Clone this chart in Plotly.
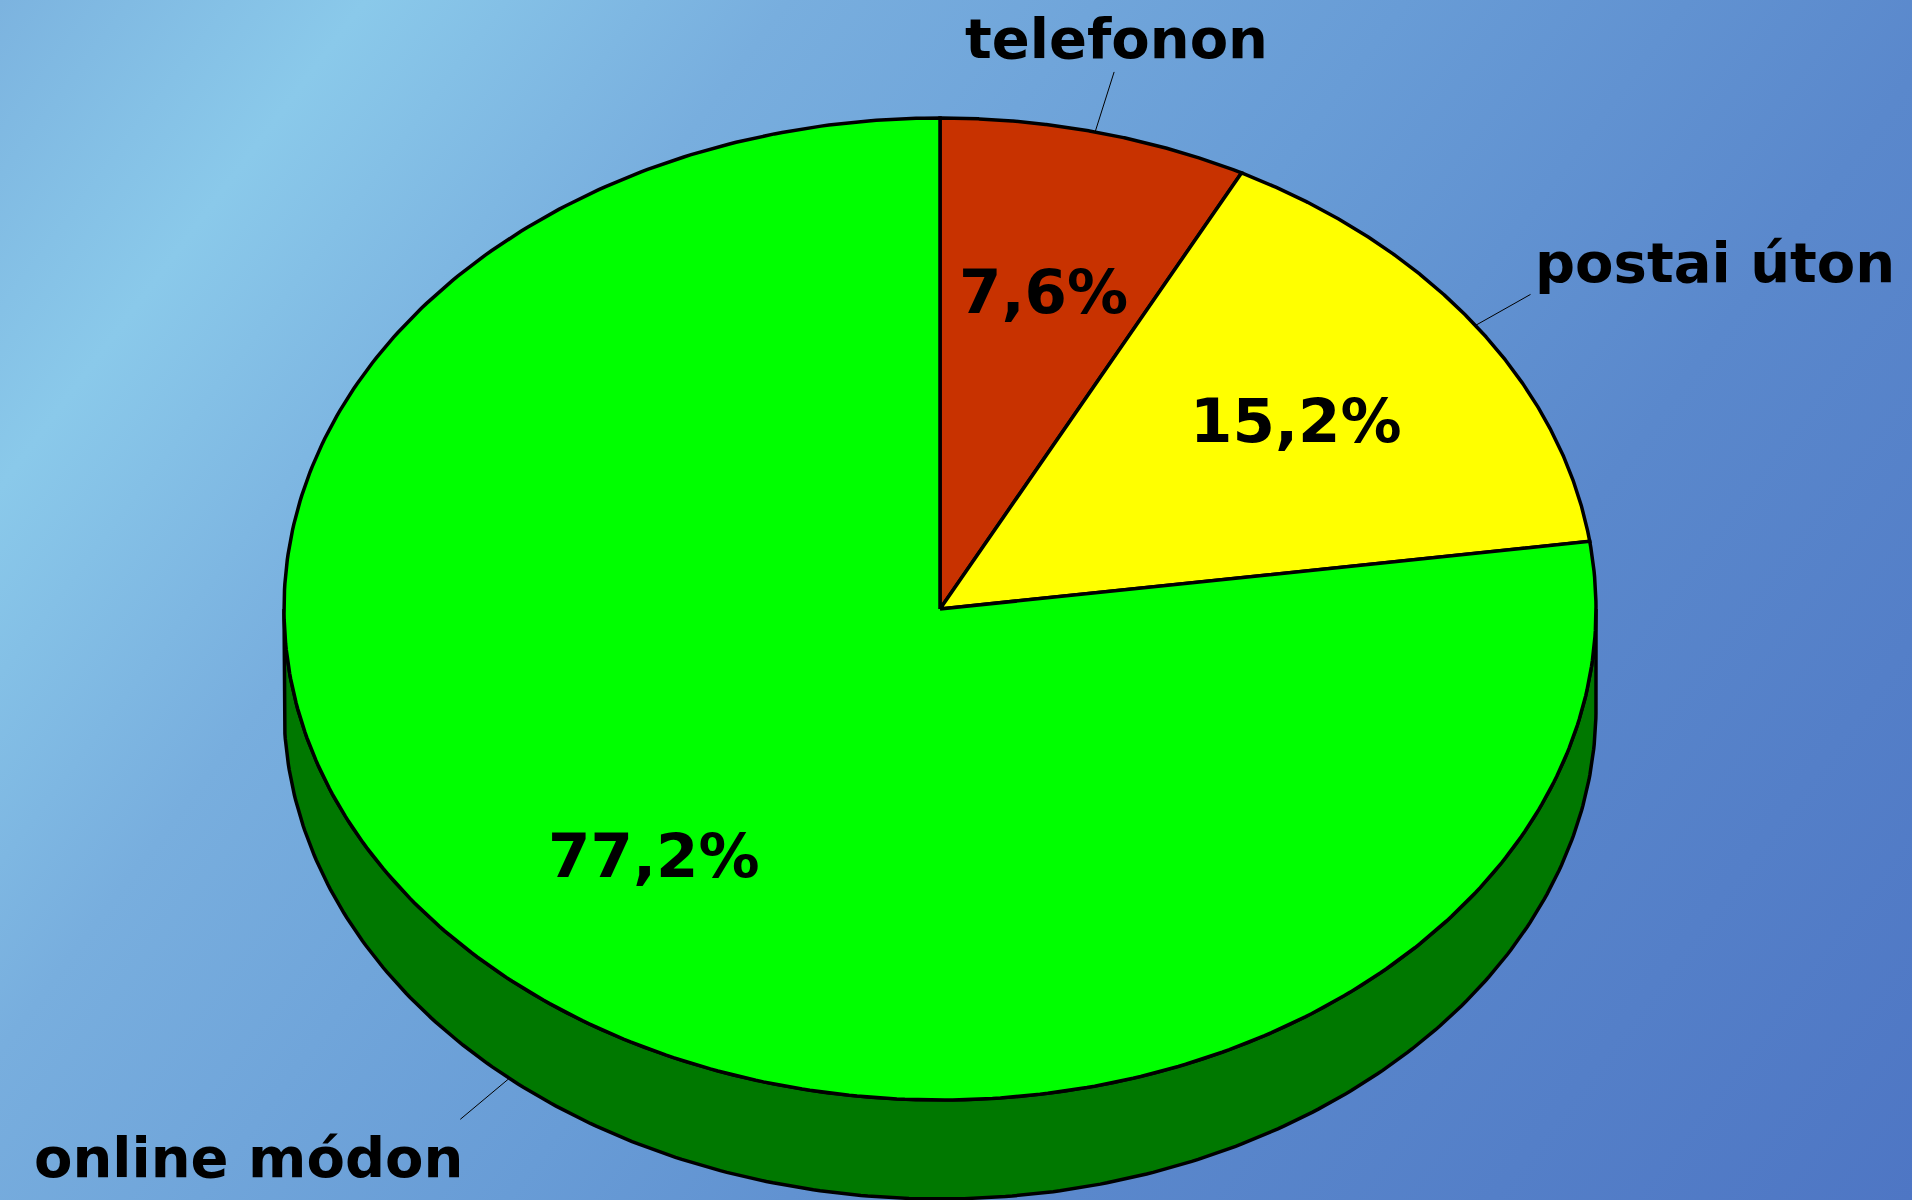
import base64
import numpy as np
import plotly.graph_objects as go

# ---------------- data ----------------
categories = ["telefonon", "postai úton", "online módon"]
values = [7.6, 15.2, 77.2]
pct_labels = ["7,6%", "15,2%", "77,2%"]

# ---------------- style ----------------
top_colors = ["#c83200", "#ffff00", "#00ff00"]
side_colors = ["#6e1c00", "#8c8c00", "#007800"]
W, H = 1912, 1200
CX, CY, RX, RY, DEPTH = 940, 609, 656, 491, 99
LABEL_R = 0.665
# leader line offsets (px) from slice edge, and text offsets from leader end
leader_off = [(19, -60), (55, -31), (-49, 41)]
text_off = [(2, -33), (2, -32), (5, 38)]
text_anchor = ["center", "left", "right"]


def pt(theta_deg, dy=0.0, r=1.0):
    t = np.radians(theta_deg)
    return CX + r * RX * np.sin(t), CY + dy - r * RY * np.cos(t)


fig = go.Figure()
total = sum(values)
starts, ends = [], []
acc = 0.0
for v in values:
    starts.append(acc / total * 360)
    acc += v
    ends.append(acc / total * 360)

# side walls (front half only: 90..270 deg)
for i in range(len(values)):
    a0, a1 = max(starts[i], 90), min(ends[i], 270)
    if a1 <= a0:
        continue
    th = np.linspace(a0, a1, 300)
    xt, yt = pt(th)
    xb, yb = pt(th[::-1], dy=DEPTH)
    xs = np.concatenate([xt, xb, xt[:1]])
    ys = np.concatenate([yt, yb, yt[:1]])
    fig.add_trace(go.Scatter(x=xs, y=ys, mode="lines", fill="toself",
                             fillcolor=side_colors[i],
                             line=dict(color="black", width=3.5),
                             hoverinfo="skip", showlegend=False))

# top faces
for i in range(len(values)):
    th = np.linspace(starts[i], ends[i], 400)
    xa, ya = pt(th)
    xs = np.concatenate([[CX], xa, [CX]])
    ys = np.concatenate([[CY], ya, [CY]])
    fig.add_trace(go.Scatter(x=xs, y=ys, mode="lines", fill="toself",
                             fillcolor=top_colors[i],
                             line=dict(color="black", width=3.5),
                             hoverinfo="skip", showlegend=False))

annotations = []
for i in range(len(values)):
    mid = (starts[i] + ends[i]) / 2
    # percent label
    lx, ly = pt(mid, r=LABEL_R)
    annotations.append(dict(x=lx, y=ly, xref="x", yref="y", showarrow=False,
                            text="<b>" + pct_labels[i] + "</b>",
                            font=dict(family="DejaVu Sans", size=61, color="black"),
                            xanchor="center", yanchor="middle"))
    # leader line
    front = 90 < (mid % 360) < 270
    sx, sy = pt(mid, dy=DEPTH if front else 0)
    ex, ey = sx + leader_off[i][0], sy + leader_off[i][1]
    fig.add_trace(go.Scatter(x=[sx, ex], y=[sy, ey], mode="lines",
                             line=dict(color="black", width=1),
                             hoverinfo="skip", showlegend=False))
    annotations.append(dict(x=ex + text_off[i][0], y=ey + text_off[i][1],
                            xref="x", yref="y", showarrow=False,
                            text="<b>" + categories[i] + "</b>",
                            font=dict(family="DejaVu Sans", size=56, color="black"),
                            xanchor=text_anchor[i], yanchor="middle"))

svg = f'''<svg xmlns="http://www.w3.org/2000/svg" width="{W}" height="{H}" viewBox="0 0 {W} {H}" preserveAspectRatio="none">
<defs><linearGradient id="g" gradientUnits="userSpaceOnUse" x1="0" y1="0" x2="1800" y2="1350">
<stop offset="0" stop-color="#7cb3df"/>
<stop offset="0.13" stop-color="#8ac9ea"/>
<stop offset="0.28" stop-color="#78aede"/>
<stop offset="0.5" stop-color="#689cd6"/>
<stop offset="0.7" stop-color="#5a88cc"/>
<stop offset="1" stop-color="#4e76c4"/>
</linearGradient></defs>
<rect x="0" y="0" width="{W}" height="{H}" fill="url(#g)"/></svg>'''
src = "data:image/svg+xml;base64," + base64.b64encode(svg.encode("utf-8")).decode("ascii")

fig.update_layout(
    width=W, height=H,
    margin=dict(l=0, r=0, t=0, b=0),
    paper_bgcolor="#6a9ed8",
    plot_bgcolor="rgba(0,0,0,0)",
    xaxis=dict(range=[0, W], visible=False, fixedrange=True),
    yaxis=dict(range=[H, 0], visible=False, fixedrange=True),
    annotations=annotations,
    images=[dict(source=src, xref="paper", yref="paper", x=0, y=1,
                 sizex=1, sizey=1, xanchor="left", yanchor="top",
                 sizing="stretch", layer="below")],
    showlegend=False,
)

fig.write_html("out.html", config={"displayModeBar": False},
               post_script="document.body.style.margin='0';document.body.style.overflow='hidden';")
